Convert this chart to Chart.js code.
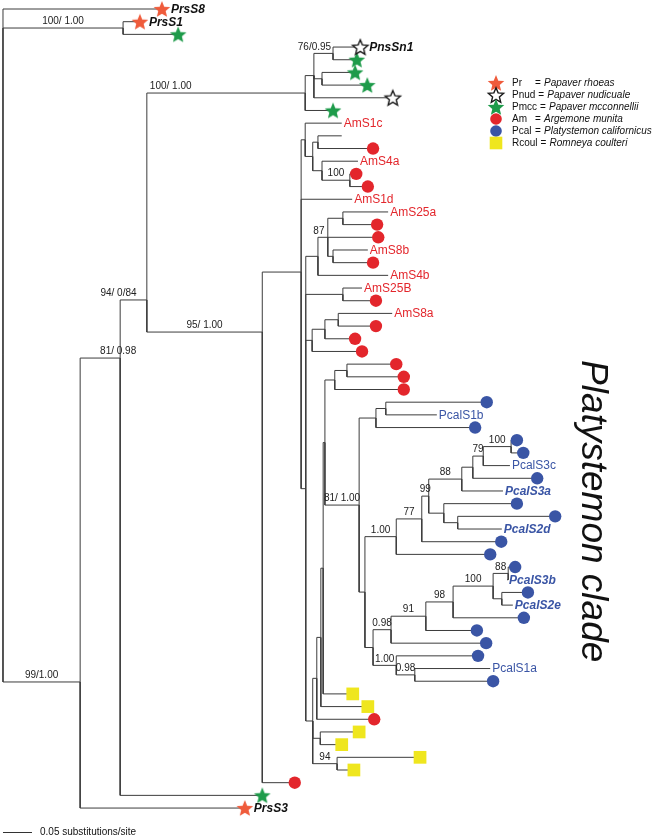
<!DOCTYPE html>
<html><head><meta charset="utf-8">
<script src="https://cdn.jsdelivr.net/npm/chart.js@4.4.1/dist/chart.umd.min.js"></script>
<style>
html,body{margin:0;padding:0;background:#fff;}
#wrap{position:relative;width:659px;height:839px;}
canvas{display:block;}
</style></head>
<body><div id="wrap"><canvas id="tree" width="659" height="839"></canvas></div>
<script>
// ---------------- data ----------------
// tips, top to bottom (row = index)
const tipLabels = ['PrsS8','PrsS1','','PnsSn1','','','','','',
  'AmS1c','','','AmS4a','','','AmS1d','AmS25a','','','AmS8b','','AmS4b','AmS25B','','AmS8a','','','','','','',
  '','PcalS1b','','','','PcalS3c','','PcalS3a','','','PcalS2d','','','','PcalS3b','','PcalS2e','','','','','PcalS1a','',
  '','','','','','','','','','PrsS3'];
const tipTaxa = ['Pr','Pr','Pmcc','Pnud','Pmcc','Pmcc','Pmcc','Pnud','Pmcc',
  '','','Am','','Am','Am','','','Am','Am','','Am','','','Am','','Am','Am','Am','Am','Am','Am',
  'Pcal','','Pcal','Pcal','Pcal','','Pcal','','Pcal','Pcal','','Pcal','Pcal','Pcal','','Pcal','','Pcal','Pcal','Pcal','Pcal','','Pcal',
  'Rcoul','Rcoul','Am','Rcoul','Rcoul','Rcoul','Rcoul','Am','Pmcc','Pr'];
const tipParents = ['root','nA','nA','nG','nG','nH','nH','nF','nE',
  'nK','nK3','nK3','nK4','nK5','nK5','nJ','nV','nV','n87','nW','nW','n318','n343','n343','nU','nU','nT','nS','n347','n347','n335',
  'n386','n386','n376','n511','n511','n483','n473','n462','n444','n458','n458','n422','nX','n506','n506','n502','n502','n453','n426','n391','n396b','n415','n415',
  'n323','n321','n317','n320','n320','n337','n337','nI','nC','nB'];
// distance from the root, substitutions/site
const tipDepths = [0.274,0.236,0.302,0.616,0.610,0.607,0.628,0.672,0.569,
  0.584,0.584,0.638,0.612,0.609,0.629,0.602,0.664,0.645,0.647,0.629,0.638,0.664,0.619,0.643,0.671,0.643,0.607,0.619,0.678,0.691,0.691,
  0.834,0.748,0.814,0.886,0.897,0.874,0.921,0.862,0.886,0.952,0.860,0.859,0.840,0.883,0.869,0.905,0.879,0.898,0.817,0.833,0.819,0.840,0.845,
  0.603,0.629,0.640,0.614,0.584,0.719,0.605,0.503,0.447,0.417];

// internal nodes
const nodeIds     = ['root','nA','nB','nC','nD','nE','nF','nG','nH','nI','nJ','nK','nK2','nK3','nK4','nK5','nL','n318','n87','nV','nW','n343','nS','nT','nU',
  'n313','n317','n321','n323','n325','n335','n347','n359','n376','n386','n365','nX','n422','n429','n462','n473','n483','n511','n444','n458',
  'n373','n391','n426','n453','n493','n506','n502','n396b','n415','n320','n337'];
const nodeParents = [null,'root','root','nB','nC','nD','nE','nF','nF','nD','nI','nJ','nK','nK2','nK2','nK4','nJ','nL','n318','n87','n87','nL','nL','nS','nT',
  'nL','n313','n317','n321','n323','n325','n335','n325','n359','n376','n359','n365','nX','n422','n429','n462','n473','n483','n429','n444',
  'n365','n373','n391','n426','n453','n493','n493','n373','n396b','n313','n313'];
const nodeDepths  = [0,0.207,0.133,0.202,0.248,0.521,0.536,0.569,0.550,0.447,0.514,0.521,0.534,0.543,0.550,0.598,0.522,0.543,0.560,0.586,0.569,0.586,0.533,0.555,0.578,
  0.534,0.541,0.548,0.552,0.555,0.572,0.593,0.614,0.643,0.660,0.624,0.678,0.722,0.734,0.791,0.810,0.828,0.876,0.760,0.784,
  0.638,0.669,0.729,0.776,0.845,0.871,0.860,0.678,0.710,0.547,0.576];
// vertical position where a node's stem joins (null = midway between its outer children)
const nodeRows    = [1.5,null,53.06,27.52,22.94,null,null,null,null,25.47,20.74,null,null,null,null,null,null,null,null,null,null,null,null,null,null,
  null,null,null,null,null,null,null,null,null,null,null,null,null,null,null,null,null,null,null,null,
  null,null,null,null,null,null,null,null,null,null,null];

const supportNodes  = ['nA','nB','nC','nD','nE','nG','nI','nK5','n87','n359','nX','n422','n429','n462','n483','n511','n391','n426','n453','n493','n506','n396b','n415','n337'];
const supportValues = ['100/ 1.00','99/1.00','81/ 0.98','94/ 0/84','100/ 1.00','76/0.95','95/ 1.00','100','87','81/ 1.00','1.00','77','99','88','79','100','0.98','91','98','100','88','1.00','0.98','94'];

const taxonCodes = ['Pr','Pnud','Pmcc','Am','Pcal','Rcoul'];
const taxonNames = ['Papaver rhoeas','Papaver nudicuale','Papaver mcconnellii','Argemone munita','Platystemon californicus','Romneya coulteri'];
const scaleBarValue = 0.05;
const scaleBarText = '0.05 substitutions/site';
const cladeText = 'Platystemon clade';

// ---------------- styles ----------------
const FONT = '"Liberation Sans", Arial, sans-serif';
const taxonStyle = {
  Pr:   {kind:'star',   fill:'#ef5b3b'},
  Pnud: {kind:'star',   fill:'#ffffff', stroke:'#1a1a1a'},
  Pmcc: {kind:'star',   fill:'#1e9b4a'},
  Am:   {kind:'circle', fill:'#e3262c'},
  Pcal: {kind:'circle', fill:'#3a55a5'},
  Rcoul:{kind:'rect',   fill:'#efe61e'}
};
const DOT_R = 6.2;
const boldItalicTips = new Set(['PrsS8','PrsS1','PnsSn1','PrsS3','PcalS3a','PcalS2d','PcalS3b','PcalS2e']);
const leftAlignedSupport = new Set(['nE']);
const supportShiftPx = {nC: 18, nD: -15, nG: -9, n87: -4};

function makeStar(fill, stroke, R) {
  const s = Math.ceil(2 * R + 4);
  const c = document.createElement('canvas');
  c.width = s; c.height = s;
  const g = c.getContext('2d');
  g.translate(s / 2, s / 2 + 0.8);
  g.beginPath();
  for (let i = 0; i < 10; i++) {
    const r = i % 2 ? R * 0.45 : R;
    const a = -Math.PI / 2 + i * Math.PI / 5;
    g.lineTo(r * Math.cos(a), r * Math.sin(a));
  }
  g.closePath();
  g.fillStyle = fill; g.fill();
  if (stroke) { g.lineWidth = 1.4; g.lineJoin = 'miter'; g.strokeStyle = stroke; g.stroke(); }
  return c;
}
const starImages = {};
taxonCodes.forEach(code => {
  const st = taxonStyle[code];
  if (st.kind === 'star') starImages[code] = makeStar(st.fill, st.stroke, code === 'Pnud' ? 8.0 : 8.7);
});

// ---------------- tree layout from the data ----------------
const info = {};
tipLabels.forEach((_, i) => { info['t' + i] = {depth: tipDepths[i], row: i, parent: tipParents[i]}; });
nodeIds.forEach((id, k) => { info[id] = {depth: nodeDepths[k], row: nodeRows[k], parent: nodeParents[k]}; });
const kids = {};
Object.keys(info).forEach(k => { const p = info[k].parent; if (p) (kids[p] = kids[p] || []).push(k); });
function rowOf(k) {
  const n = info[k];
  if (n.row == null) {
    const r = kids[k].map(rowOf);
    n.row = (Math.min(...r) + Math.max(...r)) / 2;
  }
  return n.row;
}
Object.keys(info).forEach(rowOf);

const branchPoints = [];
Object.keys(info).forEach(k => {
  const n = info[k];
  if (!n.parent) return;
  const p = info[n.parent];
  branchPoints.push({x: p.depth, y: p.row}, {x: p.depth, y: n.row}, {x: n.depth, y: n.row}, {x: NaN, y: null});
});

const datasets = [{
  label: 'branches', data: branchPoints, borderColor: '#3c3c3c', borderWidth: 1,
  pointRadius: 0, showLine: true, spanGaps: false, tension: 0, order: 10
}];
taxonCodes.forEach(code => {
  const st = taxonStyle[code];
  const pts = [];
  tipTaxa.forEach((t, i) => { if (t === code) pts.push({x: tipDepths[i], y: i}); });
  datasets.push({
    label: code, data: pts, showLine: false, order: 0,
    pointStyle: st.kind === 'star' ? starImages[code] : (st.kind === 'rect' ? 'rect' : 'circle'),
    pointRadius: st.kind === 'rect' ? 9 : (st.kind === 'circle' ? DOT_R : 8),
    backgroundColor: st.fill, borderColor: st.fill, borderWidth: 0
  });
});

function drawMarker(ctx, code, x, y) {
  const st = taxonStyle[code];
  if (st.kind === 'star') {
    const img = starImages[code];
    ctx.drawImage(img, x - img.width / 2, y - img.height / 2);
  } else if (st.kind === 'circle') {
    ctx.beginPath(); ctx.arc(x, y, 5.8, 0, Math.PI * 2); ctx.fillStyle = st.fill; ctx.fill();
  } else {
    ctx.fillStyle = st.fill; ctx.fillRect(x - 6.3, y - 6.3, 12.6, 12.6);
  }
}

const annotations = {
  id: 'annotations',
  afterDatasetsDraw(chart) {
    const ctx = chart.ctx, xs = chart.scales.x, ys = chart.scales.y;
    ctx.save();
    // tip labels
    tipLabels.forEach((lab, i) => {
      if (!lab) return;
      const bold = boldItalicTips.has(lab);
      ctx.font = (bold ? 'italic bold ' : '') + '12px ' + FONT;
      ctx.fillStyle = lab.startsWith('Am') ? '#e3262c' : (lab.startsWith('Pcal') ? '#3a55a5' : '#111');
      ctx.textAlign = 'left'; ctx.textBaseline = 'middle';
      const off = tipTaxa[i] ? 9 : 2;
      ctx.fillText(lab, xs.getPixelForValue(tipDepths[i]) + off, ys.getPixelForValue(i) + 0.5);
    });
    // support values
    ctx.font = '10px ' + FONT; ctx.fillStyle = '#222'; ctx.textBaseline = 'bottom';
    supportNodes.forEach((id, j) => {
      const n = info[id], p = info[n.parent];
      const x0 = xs.getPixelForValue(p.depth), x1 = xs.getPixelForValue(n.depth);
      const y = ys.getPixelForValue(n.row) - 1.5;
      if (leftAlignedSupport.has(id)) { ctx.textAlign = 'left'; ctx.fillText(supportValues[j], x0 + 3, y); }
      else { ctx.textAlign = 'center'; ctx.fillText(supportValues[j], (x0 + x1) / 2 + (supportShiftPx[id] || 0), y); }
    });
    // legend
    const lx = 496, ly0 = 83, ldy = 12;
    taxonCodes.forEach((code, i) => {
      const y = ly0 + i * ldy;
      drawMarker(ctx, code, lx, y);
      ctx.fillStyle = '#111'; ctx.textAlign = 'left'; ctx.textBaseline = 'middle';
      ctx.font = '10px ' + FONT;
      ctx.fillText(code, 512, y + 0.5);
      const eqX = Math.max(512 + ctx.measureText(code).width + 3, 535);
      ctx.fillText('=', eqX, y + 0.5);
      ctx.font = 'italic 10px ' + FONT;
      ctx.fillText(taxonNames[i], eqX + 9, y + 0.5);
    });
    // scale bar
    const sy = 832;
    const sx0 = xs.getPixelForValue(0), sx1 = xs.getPixelForValue(scaleBarValue);
    ctx.strokeStyle = '#333'; ctx.lineWidth = 1;
    ctx.beginPath(); ctx.moveTo(sx0, sy + 0.5); ctx.lineTo(sx1, sy + 0.5); ctx.stroke();
    ctx.font = '10px ' + FONT; ctx.fillStyle = '#111'; ctx.textAlign = 'left'; ctx.textBaseline = 'middle';
    ctx.fillText(scaleBarText, sx1 + 8, sy);
    // clade name
    ctx.translate(582, 360); ctx.rotate(Math.PI / 2);
    ctx.font = 'italic 37px ' + FONT; ctx.fillStyle = '#111'; ctx.textAlign = 'left'; ctx.textBaseline = 'alphabetic';
    ctx.fillText(cladeText, 0, 0);
    ctx.restore();
  }
};

new Chart(document.getElementById('tree'), {
  type: 'line',
  data: {datasets},
  options: {
    responsive: false, animation: false, devicePixelRatio: 1,
    layout: {padding: 0, autoPadding: false},
    plugins: {legend: {display: false}, tooltip: {enabled: false}},
    events: [],
    scales: {
      x: {type: 'linear', display: false, min: -0.00517, max: 1.131, bounds: 'data'},
      y: {type: 'linear', display: false, reverse: true, min: -0.71, max: 65.44, bounds: 'data'}
    }
  },
  plugins: [annotations]
});
</script>
</body></html>
